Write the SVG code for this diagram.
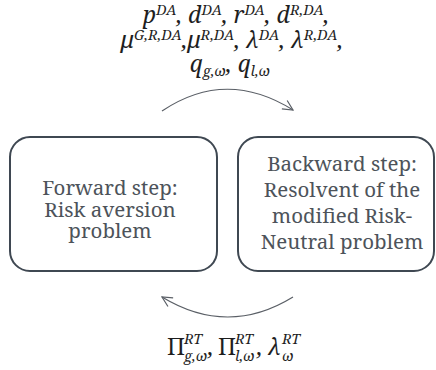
<svg xmlns="http://www.w3.org/2000/svg" width="436" height="370" viewBox="0 0 436 370">
  <defs>
    <style>
      .box { fill: #ffffff; stroke: #3f4852; stroke-width: 2; }
      .step { font-family: 'Noto Serif', serif; font-size: 20.5px; fill: #4d535a; text-anchor: middle; }
      .eq { font-family: 'Noto Serif', serif; font-style: italic; font-size: 23px; fill: #1e1e1e; }
      .mid { text-anchor: middle; }
      .up { font-style: normal; }
      .s { font-size: 14.5px; }
      .link { fill: none; stroke: #5a5f66; stroke-width: 1.2; }
    </style>
    <marker id="open" viewBox="0 0 12 12" refX="11" refY="6" markerWidth="12" markerHeight="12" markerUnits="userSpaceOnUse" orient="auto">
      <path d="M1,1 L11,6 L1,11" fill="none" stroke="#5a5f66" stroke-width="1.2"/>
    </marker>
  </defs>

  <rect width="436" height="370" fill="#ffffff"/>

  <!-- iteration variables passed forward -->
  <g id="forward-vars" font-family="Noto Serif, serif">
    <text class="eq mid" x="236" y="23">p<tspan class="s" dy="-8">DA</tspan><tspan dy="8">, d</tspan><tspan class="s" dy="-8">DA</tspan><tspan dy="8">, r</tspan><tspan class="s" dy="-8">DA</tspan><tspan dy="8">, d</tspan><tspan class="s" dy="-8">R,DA</tspan><tspan dy="8">,</tspan></text>
    <text class="eq mid" x="232" y="48">μ<tspan class="s" dy="-8">G,R,DA</tspan><tspan dy="8">,μ</tspan><tspan class="s" dy="-8">R,DA</tspan><tspan dy="8">, λ</tspan><tspan class="s" dy="-8">DA</tspan><tspan dy="8">, λ</tspan><tspan class="s" dy="-8">R,DA</tspan><tspan dy="8">,</tspan></text>
    <text class="eq mid" x="230" y="72">q<tspan class="s" dy="4">g,ω</tspan><tspan dy="-4">, q</tspan><tspan class="s" dy="4">l,ω</tspan></text>
  </g>

  <!-- multipliers passed back -->
  <g id="backward-vars" font-family="Noto Serif, serif">
    <text class="eq" y="355">
      <tspan class="up" x="167">Π</tspan><tspan class="s" x="184" y="344">RT</tspan><tspan class="s" x="184" y="361">g,ω</tspan><tspan x="208" y="355">,</tspan>
      <tspan class="up" x="218">Π</tspan><tspan class="s" x="235" y="344">RT</tspan><tspan class="s" x="235" y="361">l,ω</tspan><tspan x="257" y="355">,</tspan>
      <tspan x="268">λ</tspan><tspan class="s" x="282" y="344">RT</tspan><tspan class="s" x="282" y="361">ω</tspan>
    </text>
  </g>

  <g id="forward-step" font-family="Noto Serif, serif">
    <rect class="box" x="10" y="137" width="207" height="134" rx="20" ry="20"/>
    <text class="step" x="110" y="195">Forward step:</text>
    <text class="step" x="110" y="217">Risk aversion</text>
    <text class="step" x="110" y="238">problem</text>
  </g>

  <g id="backward-step" font-family="Noto Serif, serif">
    <rect class="box" x="238" y="137" width="196" height="134" rx="20" ry="20"/>
    <text class="step" x="342" y="171">Backward step:</text>
    <text class="step" x="342" y="197">Resolvent of the</text>
    <text class="step" x="342" y="223">modified Risk-</text>
    <text class="step" x="342" y="249">Neutral problem</text>
  </g>

  <g id="connectors">
    <path class="link" d="M162,111 Q226,68 293,110" marker-end="url(#open)"/>
    <path class="link" d="M293,297 Q228,337 162,297" marker-end="url(#open)"/>
  </g>
</svg>
